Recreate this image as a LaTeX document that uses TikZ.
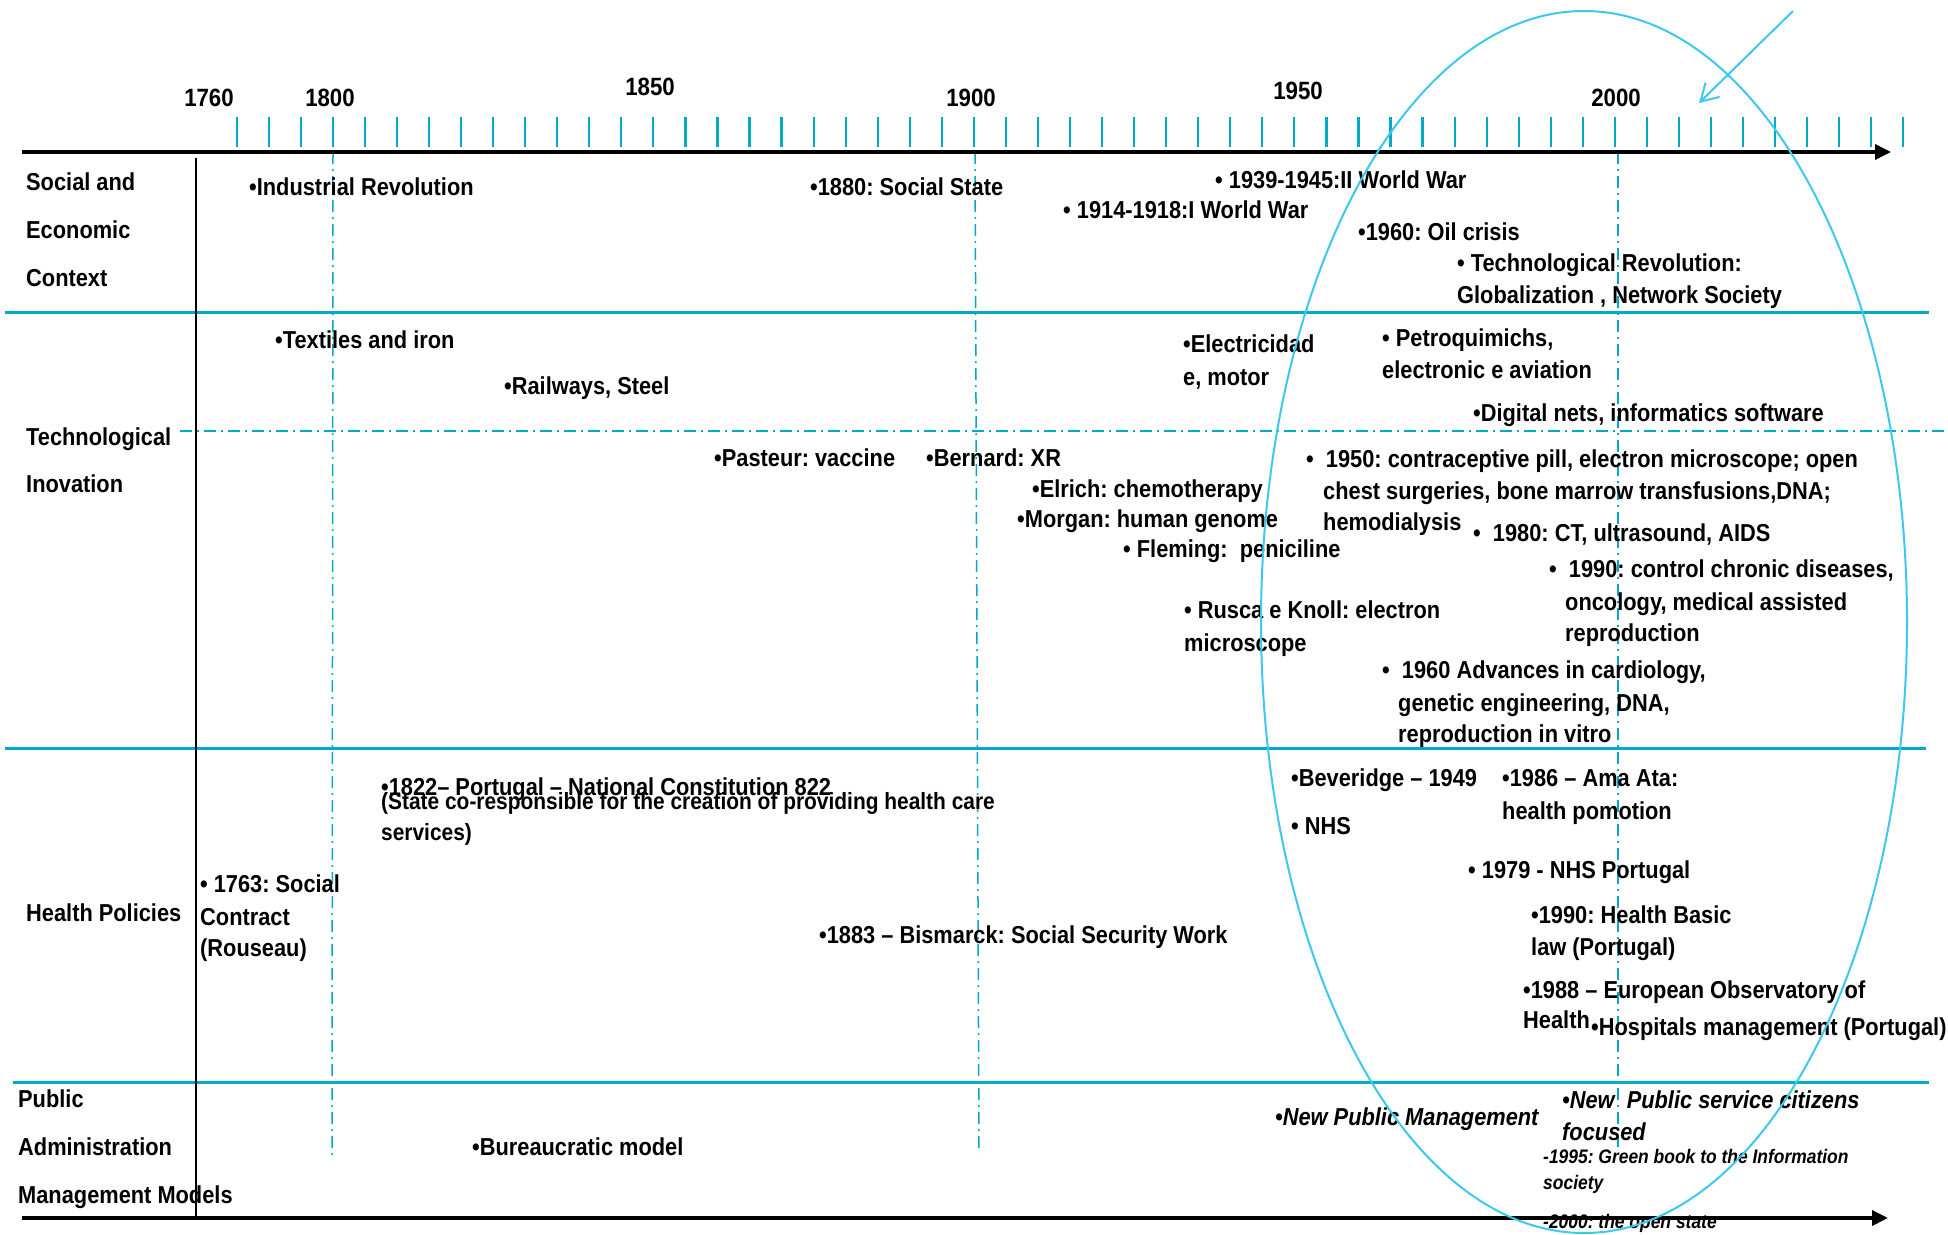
\documentclass[tikz,border=0pt]{standalone}
\usepackage{fontspec}
\setmainfont{Liberation Sans}[FakeStretch=0.89]
\usetikzlibrary{arrows.meta}
\definecolor{cyanline}{RGB}{0,170,200}
\definecolor{ellcol}{RGB}{60,200,240}
\frenchspacing
\tikzset{
  lab/.style={anchor=base west, inner sep=0pt, font=\fontsize{24.5}{29}\selectfont\bfseries},
  smalllab/.style={lab, font=\fontsize{23.5}{28}\selectfont\bfseries},
  itlab/.style={lab, font=\fontsize{24.5}{29}\selectfont\bfseries\itshape},
  smitlab/.style={lab, font=\fontsize{19.6}{24}\selectfont\bfseries\itshape},
  yearlab/.style={anchor=center, inner sep=0pt, font=\fontsize{25}{30}\selectfont\bfseries},
  sepline/.style={draw=cyanline, line width=3pt},
  ddot/.style={draw=cyanline, line width=1.5pt, dash pattern=on 12pt off 5pt on 2pt off 5pt},
  tickline/.style={draw=cyanline, line width=2.2pt},
  axisline/.style={line width=3.5pt, -{Triangle[length=16pt,width=15pt]}},
}
\begin{document}
\begin{tikzpicture}[x=1pt,y=-1pt]
\clip (0,0) rectangle (1948,1234);
\fill[white] (0,0) rectangle (1948,1234);
% coordinates
\coordinate (axTL) at (22,152);
\coordinate (axTR) at (1891,152);
\coordinate (axBL) at (22,1218);
\coordinate (axBR) at (1888,1218);
\coordinate (s1L) at (5,312);   \coordinate (s1R) at (1929,312);
\coordinate (s2L) at (5,748);   \coordinate (s2R) at (1926,748);
\coordinate (s3L) at (13,1082); \coordinate (s3R) at (1929,1082);
\coordinate (hdL) at (180,431); \coordinate (hdR) at (1948,431);
\coordinate (vbT) at (196,158); \coordinate (vbB) at (196,1217);
\coordinate (v1T) at (333,152); \coordinate (v1B) at (332,1157);
\coordinate (v2T) at (975,152); \coordinate (v2B) at (979,1153);
\coordinate (v3T) at (1618,152); \coordinate (v3B) at (1618,1147);
% separators
\draw[sepline] (s1L) -- (s1R);
\draw[sepline] (s2L) -- (s2R);
\draw[sepline] (s3L) -- (s3R);
\draw[ddot] (hdL) -- (hdR);
\draw[ddot] (v1T) -- (v1B);
\draw[ddot] (v2T) -- (v2B);
\draw[ddot] (v3T) -- (v3B);
\draw[line width=1.8pt] (vbT) -- (vbB);
% ticks
\foreach \i in {0,...,52}{
  \draw[tickline] ({236.7+32.05*\i},117) -- ({236.7+32.05*\i},147);
}
% axes
\draw[axisline] (axTL) -- (axTR);
\draw[axisline] (axBL) -- (axBR);
% years
\node[yearlab] (y1760) at (209,98) {1760};
\node[yearlab] (y1800) at (330,98) {1800};
\node[yearlab] (y1850) at (650,87) {1850};
\node[yearlab] (y1900) at (971,98) {1900};
\node[yearlab] (y1950) at (1298,91) {1950};
\node[yearlab] (y2000) at (1616,98) {2000};
% row labels
\node[lab] (r1a) at (26,190) {Social and};
\node[lab] (r1b) at (26,238) {Economic};
\node[lab] (r1c) at (26,286) {Context};
\node[lab] (r2a) at (26,445) {Technological};
\node[lab] (r2b) at (26,492) {Inovation};
\node[lab] (r3a) at (26,921) {Health Policies};
\node[lab] (r4a) at (18,1107) {Public};
\node[lab] (r4b) at (18,1155) {Administration};
\node[lab] (r4c) at (18,1203) {Management Models};
% social and economic context
\node[lab] (ir) at (249,195) {•Industrial Revolution};
\node[lab] (ss) at (810,195) {•1880: Social State};
\node[lab] (ww2) at (1215,188) {• 1939-1945:II World War};
\node[lab] (ww1) at (1063,218) {• 1914-1918:I World War};
\node[lab] (oil) at (1358,240) {•1960: Oil crisis};
\node[lab] (tr1) at (1457,271) {• Technological Revolution:};
\node[lab] (tr2) at (1457,303) {Globalization , Network Society};
% technological innovation
\node[lab] (tex) at (275,348) {•Textiles and iron};
\node[lab] (rail) at (504,394) {•Railways, Steel};
\node[lab] (past) at (714,466) {•Pasteur: vaccine};
\node[lab] (bern) at (926,466) {•Bernard: XR};
\node[lab] (el1) at (1183,352) {•Electricidad};
\node[lab] (el2) at (1183,385) {e, motor};
\node[lab] (pe1) at (1382,346) {• Petroquimichs,};
\node[lab] (pe2) at (1382,378) {electronic e aviation};
\node[lab] (dig) at (1473,421) {•Digital nets, informatics software};
\node[lab] (elr) at (1032,497) {•Elrich: chemotherapy};
\node[lab] (mor) at (1017,527) {•Morgan: human genome};
\node[lab] (fle) at (1123,557) {• Fleming:\ \ peniciline};
\node[lab] (ru1) at (1184,618) {• Rusca e Knoll: electron};
\node[lab] (ru2) at (1184,651) {microscope};
\node[lab] (a1) at (1306,467) {•\ \ 1950: contraceptive pill, electron microscope; open};
\node[lab] (a2) at (1323,499) {chest surgeries, bone marrow transfusions,DNA;};
\node[lab] (a3) at (1323,530) {hemodialysis};
\node[lab] (b1) at (1473,541) {•\ \ 1980: CT, ultrasound, AIDS};
\node[lab] (c1) at (1549,577) {•\ \ 1990: control chronic diseases,};
\node[lab] (c2) at (1565,610) {oncology, medical assisted};
\node[lab] (c3) at (1565,641) {reproduction};
\node[lab] (d1) at (1382,678) {•\ \ 1960 Advances in cardiology,};
\node[lab] (d2) at (1398,711) {genetic engineering, DNA,};
\node[lab] (d3) at (1398,742) {reproduction in vitro};
% health policies
\node[lab] (pt1) at (381,795) {•1822– Portugal – National Constitution 822};
\node[smalllab] (pt2) at (381,809) {(State co-responsible for the creation of providing health care};
\node[smalllab] (pt3) at (381,840) {services)};
\node[lab] (sc1) at (200,892) {• 1763: Social};
\node[lab] (sc2) at (200,925) {Contract};
\node[lab] (sc3) at (200,956) {(Rouseau)};
\node[lab] (bis) at (819,943) {•1883 – Bismarck: Social Security Work};
\node[lab] (bev) at (1291,786) {•Beveridge – 1949};
\node[lab] (nhs) at (1291,834) {• NHS};
\node[lab] (am1) at (1502,786) {•1986 – Ama Ata:};
\node[lab] (am2) at (1502,819) {health pomotion};
\node[lab] (np) at (1468,878) {• 1979 - NHS Portugal};
\node[lab] (hb1) at (1531,923) {•1990: Health Basic};
\node[lab] (hb2) at (1531,955) {law (Portugal)};
\node[lab] (eo1) at (1523,998) {•1988 – European Observatory of};
\node[lab] (eo2) at (1523,1028) {Health};
\node[lab] (hos) at (1591,1035) {•Hospitals management (Portugal)};
% public administration
\node[lab] (bur) at (472,1155) {•Bureaucratic model};
\node[itlab] (npm) at (1275,1125) {•New Public Management};
\node[itlab] (ps1) at (1562,1108) {•New\ \ Public service citizens};
\node[itlab] (ps2) at (1562,1140) {focused};
\node[smitlab] (gb1) at (1543,1163) {-1995: Green book to the Information};
\node[smitlab] (gb2) at (1543,1189) {society};
\node[smitlab] (os) at (1543,1228) {-2000: the open state};
% ellipse and arrow
\draw[ellcol, line width=2pt] (1584,622) ellipse [x radius=323pt, y radius=611pt];
\coordinate (arrS) at (1793,11);
\coordinate (arrE) at (1699,103);
\draw[ellcol, line width=2pt, -{Straight Barb[length=17pt,width=20pt]}] (arrS) -- (arrE);
\end{tikzpicture}
\end{document}
